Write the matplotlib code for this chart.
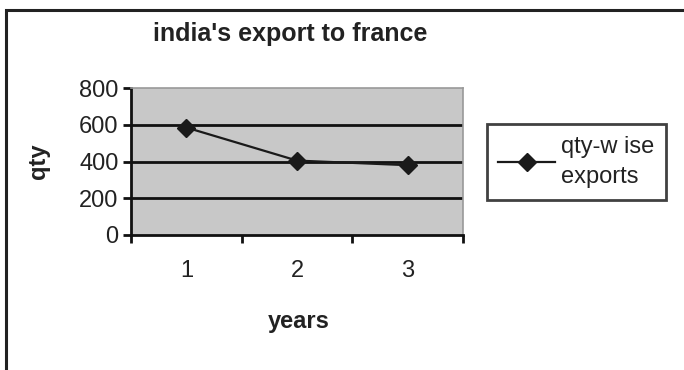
import numpy as np
import matplotlib.pyplot as plt
from matplotlib.patches import Rectangle

plt.rcParams['font.family'] = ['Liberation Sans', 'DejaVu Sans']

# data
years = [1, 2, 3]
qty = [585, 405, 380]
yticks = [0, 200, 400, 600, 800]
series_name = "qty-w ise\nexports"

fig = plt.figure(figsize=(6.84, 3.7), dpi=100)
fig.patch.set_facecolor('white')

# outer chart border (runs off the right and bottom edges in the original)
fig.patches.append(Rectangle((0.009, -0.05), 1.1, 0.973 + 0.05, transform=fig.transFigure,
                             fill=False, edgecolor='#222222', linewidth=2.2))

ax = fig.add_axes([0.1915, 0.365, 0.4855, 0.397])
ax.set_facecolor('#c8c8c8')

line, = ax.plot(years, qty, color='#1a1a1a', linewidth=1.6, marker='D',
                markersize=9, markerfacecolor='#1a1a1a', markeredgecolor='#1a1a1a',
                label=series_name, zorder=3)

ax.set_xlim(0.5, 3.5)
ax.set_ylim(0, 800)
ax.set_yticks(yticks)
ax.set_xticks([0.5, 1.5, 2.5, 3.5])
ax.set_xticklabels([])
ax.set_xticks(years, minor=True)
ax.set_xticklabels([str(y) for y in years], minor=True)
ax.tick_params(axis='x', which='minor', length=0, pad=18, labelsize=17, colors='#222222')
ax.tick_params(axis='x', which='major', direction='out', length=6, width=2, color='#111111')
ax.tick_params(axis='y', direction='out', length=6, width=2, color='#111111',
               labelsize=17, labelcolor='#222222', pad=3)

for y in yticks[1:-1]:
    ax.axhline(y, color='#111111', linewidth=2, zorder=2)

for s in ['top', 'right']:
    ax.spines[s].set_color('#999999')
    ax.spines[s].set_linewidth(1.2)
for s in ['left', 'bottom']:
    ax.spines[s].set_color('#111111')
    ax.spines[s].set_linewidth(2)

fig.text(0.424, 0.908, "india's export to france", ha='center', va='center',
         fontsize=18, fontweight='bold', color='#222222')
fig.text(0.057, 0.565, "qty", ha='center', va='center', rotation=90,
         fontsize=17, fontweight='bold', color='#222222')
fig.text(0.436, 0.13, "years", ha='center', va='center',
         fontsize=17, fontweight='bold', color='#222222')

leg = fig.legend(handles=[line], loc='center', bbox_to_anchor=(0.8425, 0.562),
                 fontsize=17, frameon=True, fancybox=False, handlelength=2.4,
                 handletextpad=0.25, borderpad=0.5, labelspacing=0.1)
leg.get_frame().set_edgecolor('#111111')
leg.get_frame().set_linewidth(2)
for t in leg.get_texts():
    t.set_color('#222222')
    t.set_linespacing(1.45)

fig.savefig('out.png', dpi=100)
